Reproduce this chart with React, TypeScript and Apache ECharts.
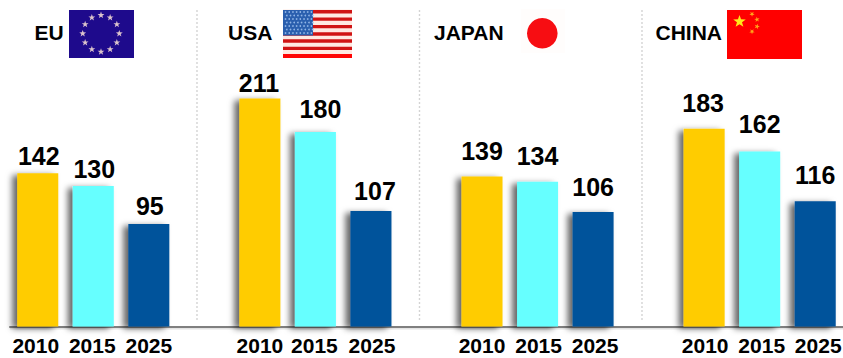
import React, { useEffect, useRef } from "react";
import * as echarts from "echarts";

const FONT = '"Liberation Sans", Arial, sans-serif';

const years = ["2010", "2015", "2025"];
const euValues = [142, 130, 95];
const usaValues = [211, 180, 107];
const japanValues = [139, 134, 106];
const chinaValues = [183, 162, 116];
const barColors = ["#FFCC00", "#66FFFF", "#00529B"];

const regions = [euValues, usaValues, japanValues, chinaValues];

// Hand placement of the value labels, [dx, dy] per bar, one row per region.
const valueLabelNudges = [
  [[1, -2], [1, -2], [1, -2]],
  [[-1, 0], [5, -8], [4, -4]],
  [[0, -10], [0, -10], [0, -10]],
  [[-1, -10], [0, -12], [0, -11]],
];
// Horizontal placement of the year labels relative to their bars, per region.
const yearLabelNudges = [
  [-2, -1, 0],
  [0, -1, 1],
  [0, 1, 2],
  [1, 2, 3],
];

const yearCategory = (year: string, dx: number) => ({
  value: year,
  textStyle: { padding: dx >= 0 ? [0, 0, 0, 2 * dx] : [0, -2 * dx, 0, 0] },
});

// One shared category axis; an empty slot separates each region's group of bars.
const categories: any[] = [];
const barData: any[] = [];
regions.forEach((values, r) => {
  values.forEach((v, i) => {
    categories.push(yearCategory(years[i], yearLabelNudges[r][i]));
    barData.push({
      value: v,
      itemStyle: { color: barColors[i] },
      label: { offset: valueLabelNudges[r][i] },
    });
  });
  if (r < regions.length - 1) {
    categories.push("");
    barData.push(null);
  }
});

function starPoints(cx: number, cy: number, R: number, rot = -Math.PI / 2) {
  const pts: number[][] = [];
  for (let i = 0; i < 10; i++) {
    const rad = i % 2 === 0 ? R : R * 0.4;
    const a = rot + (i * Math.PI) / 5;
    pts.push([cx + rad * Math.cos(a), cy + rad * Math.sin(a)]);
  }
  return pts;
}

const star = (cx: number, cy: number, R: number, fill: string, rot?: number) => ({
  type: "polygon",
  shape: { points: starPoints(cx, cy, R, rot) },
  style: { fill },
});

const rect = (x: number, y: number, width: number, height: number, fill: string) => ({
  type: "rect",
  shape: { x, y, width, height },
  style: { fill },
});

const heading = (text: string, x: number) => ({
  type: "text",
  x,
  y: 32,
  style: {
    text,
    fill: "#000",
    font: `bold 21px ${FONT}`,
    textAlign: "left",
    textVerticalAlign: "middle",
  },
});

function euFlag() {
  const items: any[] = [rect(69, 10, 65, 48, "#1E0A8C")];
  for (let i = 0; i < 12; i++) {
    const a = (i * Math.PI) / 6 - Math.PI / 2;
    items.push(star(101 + 18.3 * Math.cos(a), 33.5 + 18.3 * Math.sin(a), 3.6, "#DCC4CC"));
  }
  return items;
}

function usaFlag() {
  const items: any[] = [rect(283, 9.5, 69, 48.5, "#FFE9E2")];
  const stripeTops = [10, 17.4, 24.9, 32.3, 39.3, 46.7, 54];
  stripeTops.forEach((y, i) => {
    items.push(rect(283, y, 69, i === 6 ? 4 : 3.4, i === 6 ? "#FF0505" : "#D01414"));
  });
  items.push(rect(283, 10, 30, 25.5, "#2A5FAE"));
  for (let row = 0; row < 7; row++) {
    for (let col = 0; col < 8; col++) {
      items.push({
        type: "circle",
        shape: { cx: 285.5 + col * 3.7 + (row % 2) * 1.3, cy: 12 + row * 3.5, r: 0.85 },
        style: { fill: "#8FB4E6" },
      });
    }
  }
  return items;
}

function japanFlag() {
  return [
    rect(521, 9, 44, 44, "#FFFDFC"),
    {
      type: "circle",
      shape: { cx: 542.3, cy: 33.3, r: 15.3 },
      style: { fill: "#F70D12" },
    },
  ];
}

function chinaFlag() {
  return [
    rect(727, 10, 75, 49, "#FF0000"),
    star(739.5, 21.5, 6.6, "#FFE81A"),
    star(752, 14, 2.8, "#FFA51A", 0.3),
    star(757, 19.5, 2.8, "#FFA51A", 0.8),
    star(757, 26.5, 2.8, "#FFA51A", 0),
    star(752, 31.5, 2.8, "#FFA51A", 0.3),
  ];
}

const dividers = [197, 419.5, 642].map((x) => ({
  type: "line",
  shape: { x1: x, y1: 10, x2: x, y2: 321 },
  style: { stroke: "#D4D4D4", lineWidth: 1.4, lineDash: [2, 2] },
  z: -1,
}));

// Faint soft edge just under the baseline.
const baselineGlow = { ...rect(10, 328, 833, 1.5, "#E4E4E4"), z: -1 };

export default function App() {
  const ref = useRef<HTMLDivElement>(null);

  useEffect(() => {
    document.body.style.margin = "0";
    const chart = echarts.init(ref.current!, undefined, { renderer: "svg" });
    chart.setOption({
      animation: false,
      backgroundColor: "#fff",
      grid: { left: 10, right: 0, top: 2.5, bottom: 31.5, outerBoundsMode: "none" },
      xAxis: {
        type: "category",
        data: categories,
        axisTick: { show: false },
        axisLine: { lineStyle: { color: "#808080", width: 2 } },
        axisLabel: {
          interval: 0,
          margin: 8,
          color: "#000",
          fontFamily: FONT,
          fontWeight: "bold",
          fontSize: 21,
        },
      },
      yAxis: { type: "value", min: 0, max: 300, show: false },
      series: [
        {
          type: "bar",
          data: barData,
          barWidth: 41,
          itemStyle: {
            shadowColor: "rgba(0,0,0,0.6)",
            shadowBlur: 6,
            shadowOffsetX: -5,
            shadowOffsetY: 2,
          },
          label: {
            show: true,
            position: "top",
            distance: 3,
            color: "#000",
            fontFamily: FONT,
            fontWeight: "bold",
            fontSize: 25,
          },
        },
      ],
      graphic: [
        baselineGlow,
        ...dividers,
        heading("EU", 34.5),
        heading("USA", 228),
        heading("JAPAN", 434),
        heading("CHINA", 655.5),
        ...euFlag(),
        ...usaFlag(),
        ...japanFlag(),
        ...chinaFlag(),
      ],
    });
    return () => chart.dispose();
  }, []);

  return <div ref={ref} style={{ width: 843, height: 358 }} />;
}
